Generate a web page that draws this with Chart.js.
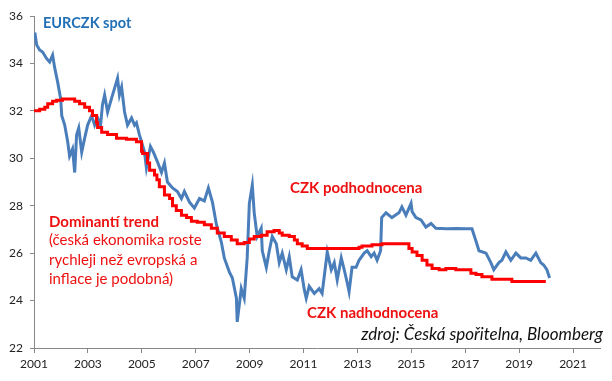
<!DOCTYPE html>
<html>
<head>
<meta charset="utf-8">
<script src="https://cdn.jsdelivr.net/npm/chart.js@4/dist/chart.umd.min.js"></script>
<style>
html,body{margin:0;padding:0;background:#fff;}
#wrap{width:612px;height:381px;position:relative;}
</style>
</head>
<body>
<div id="wrap"><canvas id="c" width="612" height="381"></canvas></div>
<script>
// ---- data (decimal years) ----
const spotYears = [2001.03,2001.10,2001.21,2001.32,2001.47,2001.58,2001.69,2001.77,2001.88,2001.99,2002.03,2002.14,2002.25,2002.32,2002.43,2002.51,2002.58,2002.66,2002.77,2002.88,2002.99,2003.14,2003.25,2003.36,2003.47,2003.54,2003.62,2003.73,2003.88,2003.99,2004.10,2004.17,2004.25,2004.36,2004.47,2004.62,2004.73,2004.80,2004.91,2005.10,2005.17,2005.32,2005.43,2005.58,2005.73,2005.84,2005.95,2006.14,2006.32,2006.47,2006.58,2006.77,2006.95,2007.14,2007.32,2007.47,2007.62,2007.77,2007.95,2008.06,2008.25,2008.36,2008.51,2008.54,2008.69,2008.80,2008.91,2008.99,2009.10,2009.17,2009.28,2009.43,2009.47,2009.62,2009.73,2009.84,2009.99,2010.10,2010.21,2010.36,2010.47,2010.58,2010.77,2010.91,2011.03,2011.10,2011.21,2011.40,2011.58,2011.69,2011.80,2011.88,2012.03,2012.14,2012.25,2012.40,2012.51,2012.62,2012.69,2012.80,2012.95,2013.06,2013.25,2013.36,2013.51,2013.62,2013.73,2013.86,2013.90,2014.06,2014.28,2014.54,2014.65,2014.80,2014.99,2015.03,2015.17,2015.36,2015.54,2015.73,2015.91,2016.30,2016.70,2017.00,2017.25,2017.40,2017.51,2017.77,2017.95,2018.06,2018.25,2018.36,2018.51,2018.69,2018.88,2019.06,2019.25,2019.43,2019.62,2019.80,2019.91,2020.03,2020.13];
const spotValues = [35.3,34.78,34.57,34.48,34.2,34.06,34.35,33.8,33.2,32.5,31.8,31.4,30.7,30.1,30.4,29.4,30.98,31.28,30.26,30.85,31.4,31.8,31.4,31.7,31.4,32.25,32.67,31.95,32.54,32.96,33.38,32.67,33.0,31.95,31.4,31.7,31.4,31.5,31.0,30.26,29.6,30.5,30.26,29.85,29.4,29.8,29.0,28.75,28.6,28.3,28.6,28.15,27.9,28.3,28.2,28.75,28.15,27.2,26.47,25.8,25.2,24.95,24.1,23.1,24.5,24.1,25.8,28.1,28.87,27.7,26.7,27.05,26.1,25.4,26.1,26.7,26.4,25.6,26.0,25.3,25.85,25.0,24.87,25.3,24.45,24.1,24.6,24.3,24.5,24.3,25.3,26.05,25.3,25.6,24.87,25.8,25.3,24.75,24.37,25.4,25.4,25.7,26.0,26.1,25.85,26.0,25.7,26.1,27.5,27.7,27.5,27.7,27.95,27.6,28.1,27.75,27.5,27.4,27.1,27.25,27.05,27.03,27.04,27.03,27.03,26.5,26.1,26.0,25.6,25.3,25.6,25.7,26.05,25.7,26.0,25.8,25.8,25.7,26.0,25.6,25.5,25.3,24.95];

const trendYears = [2001.03,2001.21,2001.40,2001.51,2001.69,2001.84,2002.06,2002.32,2002.51,2002.69,2002.88,2003.06,2003.17,2003.32,2003.36,2003.51,2003.73,2004.06,2004.43,2004.80,2004.99,2005.03,2005.21,2005.29,2005.47,2005.56,2005.65,2005.84,2006.03,2006.14,2006.28,2006.47,2006.66,2006.84,2007.06,2007.32,2007.58,2007.80,2008.06,2008.32,2008.54,2008.80,2008.99,2009.17,2009.43,2009.65,2009.91,2010.10,2010.21,2010.47,2010.66,2010.77,2010.95,2011.14,2011.32,2013.06,2013.17,2013.54,2013.91,2014.28,2014.91,2015.03,2015.21,2015.40,2015.58,2015.77,2016.03,2016.28,2016.65,2017.21,2017.40,2017.62,2017.99,2018.73,2018.99,2019.99];
const trendValues = [31.95,32.0,32.07,32.15,32.3,32.4,32.45,32.5,32.5,32.4,32.3,32.15,32.0,31.8,31.5,31.3,31.1,31.0,30.85,30.8,30.7,30.3,30.2,29.8,29.5,29.3,29.1,28.8,28.45,28.3,28.0,27.8,27.6,27.5,27.35,27.3,27.2,27.05,26.85,26.7,26.55,26.4,26.45,26.6,26.7,26.75,26.9,26.95,26.85,26.75,26.7,26.55,26.4,26.3,26.2,26.2,26.25,26.3,26.35,26.4,26.4,26.2,26.05,25.9,25.7,25.5,25.35,25.3,25.35,25.3,25.15,25.1,25.0,24.9,24.8,24.8];

const xTickLabels = [2001,2003,2005,2007,2009,2011,2013,2015,2017,2019,2021];
const yTickLabels = [22,24,26,28,30,32,34,36];

const FONT = 'Lato, "Open Sans", sans-serif';

const annotations = {
  id: 'annotations',
  afterDraw(chart) {
    const ctx = chart.ctx;
    ctx.save();
    ctx.textBaseline = 'alphabetic';
    ctx.textAlign = 'left';
    ctx.fillStyle = '#2270b5';
    ctx.font = 'bold 14.5px ' + FONT;
    ctx.fillText('EURCZK spot', 43, 28);
    ctx.fillStyle = '#ee1111';
    ctx.font = 'bold 15px ' + FONT;
    ctx.fillText('Dominantí trend', 49, 227);
    ctx.font = '15px ' + FONT;
    ctx.fillText('(česká ekonomika roste', 49, 245);
    ctx.fillText('rychleji než evropská a', 49, 264.5);
    ctx.fillText('inflace je podobná)', 49, 284);
    ctx.font = 'bold 15px ' + FONT;
    ctx.fillText('CZK podhodnocena', 290, 193);
    ctx.fillText('CZK nadhodnocena', 307, 318);
    ctx.fillStyle = '#111';
    ctx.font = 'italic 17px ' + FONT;
    ctx.textAlign = 'right';
    ctx.fillText('zdroj: Česká spořitelna, Bloomberg', 603, 339.5);
    ctx.restore();
  }
};

new Chart(document.getElementById('c'), {
  type: 'line',
  data: {
    datasets: [
      {
        label: 'EURCZK spot',
        data: spotYears.map((x, i) => ({x: x, y: spotValues[i]})),
        borderColor: '#4a7ebb',
        borderWidth: 3,
        pointRadius: 0,
        tension: 0,
        order: 2
      },
      {
        label: 'Dominantí trend',
        data: trendYears.map((x, i) => ({x: x, y: trendValues[i]})),
        borderColor: '#ff0000',
        borderWidth: 3,
        pointRadius: 0,
        stepped: 'after',
        order: 1
      }
    ]
  },
  options: {
    responsive: false,
    animation: false,
    devicePixelRatio: 1,
    layout: {padding: {left: 0, right: 12, top: 16, bottom: 0}},
    plugins: {legend: {display: false}, tooltip: {enabled: false}},
    scales: {
      x: {
        type: 'linear',
        min: 2001,
        max: 2022,
        afterBuildTicks(scale) { scale.ticks = xTickLabels.map(v => ({value: v})); },
        afterFit(scale) { scale.height = 33; },
        ticks: {
          font: {family: FONT, size: 12},
          color: '#222',
          padding: 4,
          maxRotation: 0,
          autoSkip: false,
          callback: v => String(v)
        },
        grid: {display: true, drawOnChartArea: false, tickLength: 5, color: '#888'},
        border: {color: '#888', width: 1}
      },
      y: {
        type: 'linear',
        min: 22,
        max: 36,
        afterBuildTicks(scale) { scale.ticks = yTickLabels.map(v => ({value: v})); },
        afterFit(scale) { scale.width = 34; },
        ticks: {
          font: {family: FONT, size: 12},
          color: '#222',
          padding: 7,
          callback: v => String(v)
        },
        grid: {display: true, drawOnChartArea: false, tickLength: 4, color: '#888'},
        border: {color: '#888', width: 1}
      }
    }
  },
  plugins: [annotations]
});
</script>
</body>
</html>
